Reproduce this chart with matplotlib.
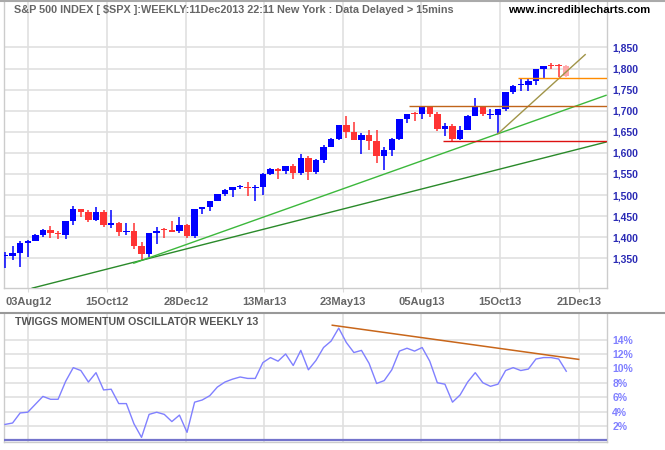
import matplotlib.pyplot as plt
from matplotlib.lines import Line2D

plt.rcParams['font.family'] = ['Liberation Sans', 'DejaVu Sans']

# weekly candles, week of 9 Jul 2012 .. week of 9 Dec 2013 (last one still open)
opens = [1356, 1356, 1362, 1386, 1391, 1406, 1418, 1411, 1406, 1438,
         1466, 1460, 1441, 1461, 1429, 1433, 1412, 1414, 1380, 1360,
         1409, 1418, 1418, 1414, 1430, 1402, 1466, 1472, 1486, 1503,
         1513, 1518, 1519, 1516, 1518, 1551, 1561, 1557, 1569, 1553,
         1589, 1555, 1582, 1614, 1634, 1667, 1650, 1631, 1643, 1627,
         1592, 1606, 1632, 1680, 1693, 1692, 1709, 1691, 1656, 1664,
         1633, 1655, 1688, 1710, 1690, 1690, 1703, 1744, 1760, 1762,
         1771, 1798, 1806, 1806, 1806]
highs = [1365, 1380, 1392, 1394, 1407, 1420, 1426, 1414, 1438, 1474,
         1468, 1464, 1471, 1464, 1464, 1435, 1434, 1434, 1388, 1409,
         1424, 1423, 1438, 1448, 1431, 1467, 1472, 1486, 1503, 1514,
         1518, 1525, 1531, 1525, 1552, 1564, 1563, 1570, 1573, 1597,
         1593, 1585, 1618, 1636, 1667, 1687, 1674, 1646, 1654, 1654,
         1615, 1636, 1680, 1693, 1698, 1710, 1709, 1697, 1670, 1669,
         1664, 1689, 1730, 1711, 1703, 1703, 1745, 1760, 1775, 1774,
         1798, 1807, 1813, 1810, 1809]
lows = [1327, 1345, 1329, 1354, 1390, 1400, 1398, 1397, 1396, 1429,
        1449, 1436, 1438, 1425, 1423, 1403, 1405, 1373, 1343, 1353,
        1385, 1398, 1412, 1411, 1398, 1398, 1456, 1463, 1486, 1497,
        1495, 1515, 1497, 1485, 1501, 1547, 1538, 1550, 1539, 1548,
        1536, 1549, 1575, 1613, 1630, 1635, 1630, 1598, 1608, 1577,
        1560, 1593, 1631, 1671, 1676, 1681, 1684, 1652, 1640, 1627,
        1630, 1654, 1687, 1687, 1680, 1646, 1699, 1740, 1746, 1747,
        1761, 1777, 1800, 1779, 1780]
closes = [1358, 1363, 1386, 1391, 1406, 1418, 1411, 1407, 1438, 1466,
          1460, 1441, 1461, 1429, 1433, 1412, 1414, 1380, 1360, 1409,
          1416, 1417, 1413, 1430, 1402, 1466, 1472, 1486, 1503, 1513,
          1518, 1520, 1516, 1518, 1551, 1561, 1557, 1569, 1553, 1589,
          1555, 1582, 1614, 1634, 1667, 1650, 1631, 1643, 1627, 1592,
          1606, 1632, 1680, 1692, 1692, 1710, 1691, 1656, 1664, 1633,
          1655, 1688, 1710, 1692, 1691, 1703, 1744, 1759, 1762, 1771,
          1798, 1805, 1805, 1805, 1782]

# Twiggs momentum oscillator (weekly, 13), in %
momentum = [2.2, 2.4, 3.8, 3.9, 5.0, 6.1, 5.7, 5.7, 8.2, 10.1,
            9.7, 8.1, 9.4, 7.0, 7.1, 5.1, 5.1, 2.3, 0.4, 3.6,
            3.9, 3.6, 2.6, 3.5, 1.1, 5.3, 5.6, 6.2, 7.4, 8.1,
            8.5, 8.8, 8.6, 8.6, 10.8, 11.5, 11.0, 12.0, 10.4, 12.5,
            9.8, 11.1, 12.9, 13.8, 15.6, 13.6, 12.2, 12.5, 10.7, 7.9,
            8.3, 9.8, 12.4, 12.8, 12.4, 12.9, 11.0, 8.0, 7.8, 5.3,
            6.3, 8.1, 9.4, 8.0, 7.5, 7.8, 9.7, 10.1, 9.7, 9.9,
            11.3, 11.5, 11.5, 11.3, 9.6]

date_labels = ['03Aug12', '15Oct12', '28Dec12', '13Mar13',
               '23May13', '05Aug13', '15Oct13', '21Dec13']
date_pos = [3.07, 13.45, 23.86, 34.2, 44.6, 54.9, 65.3, 75.7]
price_ticks = [1350, 1400, 1450, 1500, 1550, 1600, 1650, 1700, 1750, 1800, 1850]
pct_ticks = [2, 4, 6, 8, 10, 12, 14]

# hand-drawn lines: (x0, y0, x1, y1, colour)
price_lines = [
    (3.5, 1279, 79.33, 1626, '#2a8a2a'),
    (16.9, 1338, 79.33, 1737, '#3cb83c'),
    (64.9, 1644, 76.56, 1834, '#a09448'),
    (67.7, 1776.5, 79.33, 1776.5, '#ff8c00'),
    (53.2, 1710, 79.33, 1710, '#c0641a'),
    (57.7, 1628, 79.33, 1628, '#dd1111'),
]
momentum_trend = (43.15, 16.0, 75.64, 11.25)

fig = plt.figure(figsize=(6.65, 4.5), dpi=100)
W, H = 665.0, 450.0
ax = fig.add_axes([4 / W, 1 - 288.3 / H, 602.7 / W, 287.3 / H])
ax2 = fig.add_axes([4 / W, 1 - 441.7 / H, 602.7 / W, 128.7 / H])

n = len(closes)
idx = list(range(n))
cols = []
for i in idx:
    if i == n - 1:
        cols.append('#ffa8a8')
    elif closes[i] >= opens[i]:
        cols.append('#0000ff')
    else:
        cols.append('#ff3333')

ax.vlines(idx, lows, highs, colors=cols, lw=1.1, zorder=3)
bottoms = [min(o, c) for o, c in zip(opens, closes)]
heights = [max(abs(c - o), 2.4) for o, c in zip(opens, closes)]
ax.bar(idx, heights, bottom=bottoms, width=0.85, color=cols, lw=0, zorder=4)

for x0, y0, x1, y1, c in price_lines:
    ax.plot([x0, x1], [y0, y1], color=c, lw=1.0, zorder=5, solid_capstyle='butt')

ax.set_xlim(-0.13, 79.33)
ax.set_ylim(1279, 1960)
ax.set_yticks(price_ticks)
ax.set_yticklabels([f'{p:,}' for p in price_ticks])
ax.yaxis.tick_right()
ax.set_xticks(date_pos)
ax.set_xticklabels(date_labels)
ax.tick_params(axis='y', length=0, pad=4, labelsize=7.5, labelcolor='#2b2bb5')
ax.tick_params(axis='x', length=3, color='#dddddd', pad=3, labelsize=8,
               labelcolor='#666666')
for lab in ax.get_xticklabels() + ax.get_yticklabels():
    lab.set_fontweight('bold')
ax.grid(True, color='#e0e0e0', lw=1.2)
ax.set_axisbelow(True)

# oscillator panel
ax2.plot(idx, momentum, color='#8080ff', lw=1.0, zorder=3)
ax2.axhline(0, color='#7474cc', lw=1.6, zorder=3)
ax2.plot([momentum_trend[0], momentum_trend[2]], [momentum_trend[1], momentum_trend[3]],
         color='#c8661a', lw=1.1, zorder=4)
ax2.set_xlim(-0.13, 79.33)
ax2.set_ylim(-0.2, 17.7)
ax2.set_yticks(pct_ticks)
ax2.set_yticklabels([f'{v}%' for v in pct_ticks])
ax2.yaxis.tick_right()
ax2.set_xticks(date_pos)
ax2.set_xticklabels([])
ax2.tick_params(axis='y', length=0, pad=4, labelsize=7.5, labelcolor='#8080ff')
ax2.tick_params(axis='x', length=0)
for lab in ax2.get_yticklabels():
    lab.set_fontweight('bold')
ax2.grid(True, color='#e0e0e0', lw=1.2)
ax2.set_axisbelow(True)

for a in (ax, ax2):
    for s in a.spines.values():
        s.set_color('#cccccc')
        s.set_linewidth(1.0)
    a.spines['top'].set_visible(False)

# full-width separators
fig.add_artist(Line2D([0, 1], [1 - 1 / H, 1 - 1 / H], color='#aaaaaa', lw=1.5))
fig.add_artist(Line2D([0, 1], [1 - 313 / H, 1 - 313 / H], color='#999999', lw=1.5))

fig.text(14 / W, 1 - 10 / H,
         'S&P 500 INDEX [ $SPX ]:WEEKLY:11Dec2013 22:11 New York : Data Delayed > 15mins',
         fontsize=7.8, fontweight='bold', color='#666666', va='center', ha='left')
fig.text(508 / W, 1 - 10 / H, 'www.incrediblecharts.com', fontsize=8.1,
         fontweight='bold', color='#000000', va='center', ha='left')
fig.text(15 / W, 1 - 322 / H, 'TWIGGS MOMENTUM OSCILLATOR WEEKLY 13', fontsize=7.7,
         fontweight='bold', color='#555555', va='center', ha='left')

fig.savefig('out.png', dpi=100)
